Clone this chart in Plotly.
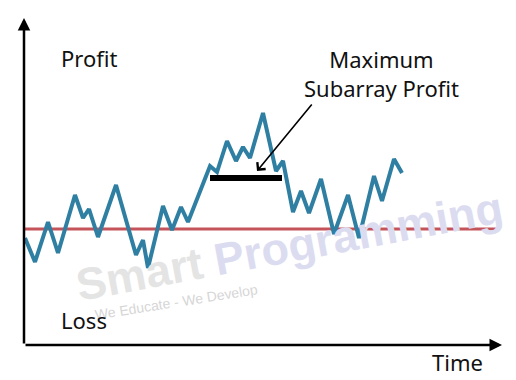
import plotly.graph_objects as go

# Data (time units, profit units; origin at the axes corner)
time = [1, 11, 24, 34, 51, 59, 65, 74, 92, 112, 119, 124, 139, 148, 157, 164,
        186, 193, 203, 212, 219, 226, 239, 252, 259, 269, 277, 285, 297, 310,
        324, 335, 350, 358, 370, 378]
profit = [107, 83, 123, 92, 150, 127, 136, 108, 160, 90, 105, 77, 139, 115, 138, 123,
          179, 173, 204, 184, 198, 187, 232, 174, 184, 133, 154, 132, 166, 111,
          150, 107, 169, 144, 186, 172]
break_even_x = [1, 474]
break_even_y = [116, 116]
max_sub_x = [186, 258]
max_sub_y = [167, 167]
x_axis_end = 478
y_axis_end = 327

FONT = "Noto Sans"

fig = go.Figure()
fig.add_trace(go.Scatter(x=break_even_x, y=break_even_y, mode="lines",
                         line=dict(color="#c4545a", width=3), hoverinfo="skip"))
fig.add_trace(go.Scatter(x=time, y=profit, mode="lines",
                         line=dict(color="#2f7fa3", width=4), hoverinfo="skip"))
fig.add_trace(go.Scatter(x=max_sub_x, y=max_sub_y, mode="lines",
                         line=dict(color="#000000", width=6), hoverinfo="skip"))

ann = []
# watermark
ann.append(dict(x=265, y=99, xref="x", yref="y", showarrow=False, textangle=-10.5,
                text="<span style='color:#e4e4e4'>Smart</span> <span style='color:#dcdcf1'>Programming</span>",
                font=dict(family="Liberation Sans", size=45, color="#e4e4e4", weight="bold"),
                xanchor="center", yanchor="middle"))
ann.append(dict(x=152, y=43, xref="x", yref="y", showarrow=False, textangle=-9,
                text="We Educate - We Develop",
                font=dict(family="Liberation Sans", size=14, color="#d6d6d6"),
                xanchor="center", yanchor="middle"))
# axes with arrows
ann.append(dict(x=0, y=y_axis_end, ax=0, ay=0, xref="x", yref="y", axref="x", ayref="y",
                showarrow=True, arrowhead=2, arrowsize=1, arrowwidth=2.5,
                arrowcolor="#000000", text="", standoff=0))
ann.append(dict(x=x_axis_end, y=0, ax=0, ay=0, xref="x", yref="y", axref="x", ayref="y",
                showarrow=True, arrowhead=2, arrowsize=1, arrowwidth=2.5,
                arrowcolor="#000000", text="", standoff=0))
# callout arrow
ann.append(dict(x=233, y=174, ax=289, ay=242, xref="x", yref="y", axref="x", ayref="y",
                showarrow=True, arrowhead=4, arrowsize=1.3, arrowwidth=1.6,
                arrowcolor="#000000", text="", standoff=0))
# labels
def label(txt, x, y):
    return dict(x=x, y=y, xref="x", yref="y", showarrow=False, text=txt,
                font=dict(family=FONT, size=22, color="#111111"),
                xanchor="center", yanchor="middle", align="center")
ann.append(label("Profit", 65, 287))
ann.append(label("Maximum<br>Subarray Profit", 357, 272))
ann.append(label("Loss", 60, 25))
ann.append(label("Time", 433, -17))

# the page body has an 8px margin: the figure is sized so that it fits the window
fig.update_layout(
    width=508, height=372,
    margin=dict(l=0, r=0, t=0, b=0),
    paper_bgcolor="white", plot_bgcolor="white",
    showlegend=False,
    xaxis=dict(range=[-16, 492], visible=False, fixedrange=True),
    yaxis=dict(range=[-35, 337], visible=False, fixedrange=True),
    annotations=ann,
)
fig.write_html("out.html")
